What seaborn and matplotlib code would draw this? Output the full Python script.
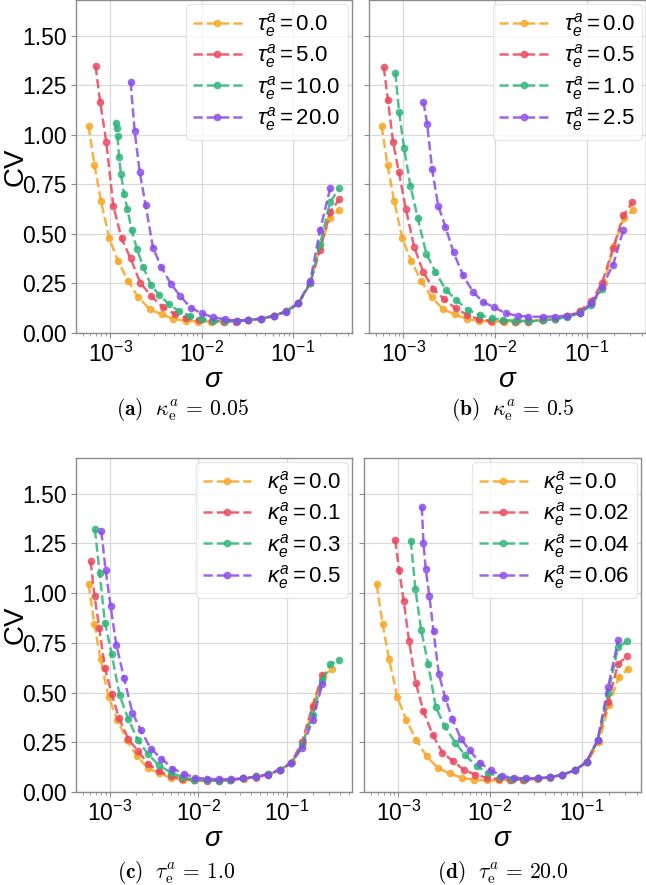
import matplotlib
matplotlib.use("Agg")
import matplotlib.pyplot as plt
import seaborn as sns
import pandas as pd

# ---------------- data ----------------
base_sigma = [5.78e-4, 6.71e-4, 7.91e-4, 9.75e-4, 1.216e-3, 1.567e-3, 2.03e-3, 2.73e-3, 3.66e-3, 4.89e-3,
              6.71e-3, 9.20e-3, 1.265e-2, 1.73e-2, 2.38e-2, 3.26e-2, 4.47e-2, 6.17e-2, 8.51e-2, 0.1156,
              0.155, 0.1995, 0.257, 0.325]
base_cv = [1.045, 0.847, 0.667, 0.477, 0.364, 0.262, 0.180, 0.119, 0.094, 0.071,
           0.062, 0.058, 0.058, 0.060, 0.062, 0.066, 0.072, 0.086, 0.110, 0.150,
           0.250, 0.440, 0.580, 0.620]

# panel (a)
a_red_sigma = [6.90e-4, 7.76e-4, 9.04e-4, 1.079e-3, 1.330e-3, 1.671e-3, 2.14e-3, 2.80e-3, 3.76e-3, 5.09e-3,
               6.84e-3, 9.33e-3, 1.288e-2, 1.758e-2, 2.38e-2, 3.26e-2, 4.47e-2, 6.17e-2, 8.51e-2, 0.1156,
               0.155, 0.1995, 0.257, 0.325]
a_red_cv = [1.347, 1.163, 0.964, 0.642, 0.477, 0.376, 0.252, 0.188, 0.130, 0.096,
            0.077, 0.066, 0.059, 0.057, 0.058, 0.066, 0.072, 0.086, 0.110, 0.150,
            0.250, 0.420, 0.610, 0.675]
a_green_sigma = [1.143e-3, 1.172e-3, 1.202e-3, 1.247e-3, 1.312e-3, 1.416e-3, 1.538e-3, 1.714e-3, 1.963e-3,
                 2.31e-3, 2.80e-3, 3.45e-3, 4.38e-3, 5.64e-3, 7.43e-3, 1.0e-2, 1.346e-2, 1.803e-2, 2.43e-2,
                 3.26e-2, 4.47e-2, 6.17e-2, 8.51e-2, 0.1156, 0.155, 0.1995, 0.257, 0.325]
a_green_cv = [1.060, 1.035, 0.994, 0.887, 0.800, 0.700, 0.628, 0.519, 0.423,
              0.331, 0.240, 0.192, 0.145, 0.111, 0.087, 0.071, 0.062, 0.059, 0.060,
              0.066, 0.072, 0.086, 0.109, 0.150, 0.250, 0.450, 0.660, 0.730]
a_purple_sigma = [1.671e-3, 1.849e-3, 2.10e-3, 2.44e-3, 2.94e-3, 3.63e-3, 4.60e-3, 5.87e-3, 7.62e-3, 1.0e-2,
                  1.346e-2, 1.803e-2, 2.43e-2, 3.26e-2, 4.47e-2, 6.17e-2, 8.51e-2, 0.1156, 0.155, 0.1995, 0.257]
a_purple_cv = [1.267, 1.020, 0.813, 0.645, 0.430, 0.333, 0.249, 0.185, 0.128, 0.099,
               0.079, 0.069, 0.062, 0.066, 0.072, 0.085, 0.108, 0.150, 0.260, 0.520, 0.730]

# panel (b)
b_red_sigma = [6.10e-4, 6.79e-4, 7.71e-4, 8.91e-4, 1.062e-3, 1.309e-3, 1.644e-3, 2.13e-3, 2.79e-3, 3.72e-3,
               4.99e-3, 6.70e-3, 9.06e-3, 1.236e-2, 1.66e-2, 2.28e-2, 3.33e-2, 4.51e-2, 6.15e-2, 8.39e-2,
               0.1127, 0.147, 0.195, 0.253, 0.317]
b_red_cv = [1.342, 1.174, 0.964, 0.813, 0.628, 0.435, 0.309, 0.222, 0.170, 0.124,
            0.091, 0.069, 0.062, 0.060, 0.057, 0.057, 0.064, 0.072, 0.085, 0.110,
            0.160, 0.250, 0.427, 0.593, 0.659]
b_green_sigma = [8.17e-4, 8.97e-4, 1.019e-3, 1.194e-3, 1.439e-3, 1.786e-3, 2.24e-3, 2.91e-3, 3.80e-3, 5.02e-3,
                 6.87e-3, 9.20e-3, 1.236e-2, 1.66e-2, 2.28e-2, 3.33e-2, 4.51e-2, 6.15e-2, 8.39e-2, 0.1127, 0.147]
b_green_cv = [1.314, 1.115, 0.931, 0.741, 0.578, 0.397, 0.309, 0.217, 0.166, 0.116,
              0.091, 0.074, 0.066, 0.062, 0.060, 0.064, 0.070, 0.080, 0.100, 0.140, 0.220]
b_purple_sigma = [1.656e-3, 1.820e-3, 2.06e-3, 2.40e-3, 2.88e-3, 3.53e-3, 4.48e-3, 5.75e-3, 7.46e-3, 9.84e-3,
                  1.309e-2, 1.774e-2, 2.32e-2, 3.33e-2, 4.51e-2, 6.15e-2, 8.39e-2, 0.1127, 0.147, 0.195, 0.253]
b_purple_cv = [1.166, 1.053, 0.825, 0.642, 0.536, 0.407, 0.291, 0.208, 0.155, 0.130,
               0.099, 0.087, 0.082, 0.082, 0.083, 0.088, 0.100, 0.150, 0.230, 0.345, 0.520]

# panel (c)
c_red_sigma = [6.10e-4, 6.76e-4, 7.64e-4, 8.85e-4, 1.054e-3, 1.274e-3, 1.629e-3, 2.11e-3, 2.74e-3, 3.61e-3,
               4.91e-3, 6.65e-3, 9.02e-3, 1.245e-2, 1.73e-2, 2.29e-2, 3.24e-2, 4.51e-2, 6.22e-2, 8.43e-2,
               0.1122, 0.1486, 0.196, 0.2535]
c_red_cv = [1.161, 0.985, 0.825, 0.623, 0.495, 0.372, 0.265, 0.205, 0.141, 0.104,
            0.080, 0.067, 0.059, 0.057, 0.057, 0.060, 0.068, 0.078, 0.090, 0.113,
            0.146, 0.250, 0.430, 0.590]
c_green_sigma = [6.82e-4, 7.71e-4, 8.85e-4, 1.054e-3, 1.297e-3, 1.629e-3, 2.09e-3, 2.72e-3, 3.61e-3, 4.91e-3,
                 6.65e-3, 9.02e-3, 1.253e-2, 1.73e-2, 2.29e-2, 3.24e-2, 4.51e-2, 6.22e-2, 8.43e-2, 0.1122,
                 0.1486, 0.196, 0.2535, 0.3126, 0.395]
c_green_cv = [1.321, 1.103, 0.852, 0.696, 0.486, 0.366, 0.260, 0.190, 0.134, 0.098,
              0.075, 0.062, 0.059, 0.057, 0.061, 0.068, 0.078, 0.090, 0.113, 0.146,
              0.235, 0.386, 0.565, 0.645, 0.662]
c_purple_sigma = [8.05e-4, 9.02e-4, 1.026e-3, 1.189e-3, 1.452e-3, 1.807e-3, 2.26e-3, 2.91e-3, 3.85e-3, 5.13e-3,
                  6.84e-3, 9.25e-3, 1.253e-2, 1.73e-2, 2.37e-2, 3.24e-2, 4.51e-2, 6.22e-2, 8.43e-2, 0.1122,
                  0.1486, 0.196, 0.2535]
c_purple_cv = [1.312, 1.115, 0.934, 0.741, 0.575, 0.399, 0.310, 0.218, 0.168, 0.118,
               0.093, 0.072, 0.067, 0.064, 0.064, 0.068, 0.076, 0.088, 0.112, 0.146,
               0.220, 0.360, 0.545]

# panel (d)
d_red_sigma = [9.20e-4, 1.019e-3, 1.143e-3, 1.309e-3, 1.545e-3, 1.879e-3, 2.36e-3, 3.03e-3, 3.90e-3, 5.15e-3,
               6.90e-3, 9.25e-3, 1.245e-2, 1.67e-2, 2.29e-2, 3.35e-2, 4.58e-2, 6.19e-2, 8.45e-2, 0.1135,
               0.1496, 0.1954, 0.251, 0.316]
d_red_cv = [1.269, 1.118, 0.959, 0.759, 0.550, 0.406, 0.289, 0.198, 0.157, 0.113,
            0.087, 0.072, 0.064, 0.062, 0.062, 0.070, 0.075, 0.087, 0.109, 0.151,
            0.260, 0.452, 0.646, 0.682]
d_green_sigma = [1.365e-3, 1.535e-3, 1.770e-3, 2.11e-3, 2.56e-3, 3.19e-3, 4.18e-3, 5.37e-3, 7.19e-3, 9.42e-3,
                 1.297e-2, 1.738e-2, 2.40e-2, 3.35e-2, 4.58e-2, 6.19e-2, 8.45e-2, 0.1135, 0.1496, 0.1954,
                 0.251, 0.316]
d_green_cv = [1.265, 1.019, 0.816, 0.646, 0.427, 0.332, 0.248, 0.185, 0.129, 0.098,
              0.075, 0.065, 0.063, 0.068, 0.075, 0.087, 0.109, 0.151, 0.260, 0.500,
              0.729, 0.758]
d_purple_sigma = [1.799e-3, 1.879e-3, 1.991e-3, 2.18e-3, 2.42e-3, 2.76e-3, 3.24e-3, 3.87e-3, 4.81e-3, 5.98e-3,
                  7.83e-3, 1.023e-2, 1.352e-2, 1.816e-2, 2.45e-2, 3.35e-2, 4.58e-2, 6.19e-2, 8.45e-2, 0.1135,
                  0.1496, 0.1954, 0.251]
d_purple_cv = [1.436, 1.252, 1.120, 0.984, 0.808, 0.595, 0.475, 0.369, 0.268, 0.210,
               0.146, 0.109, 0.080, 0.072, 0.068, 0.069, 0.075, 0.087, 0.109, 0.151,
               0.260, 0.530, 0.763]

a_labels = [r"$\tau_e^a = 0.0$", r"$\tau_e^a = 5.0$", r"$\tau_e^a = 10.0$", r"$\tau_e^a = 20.0$"]
b_labels = [r"$\tau_e^a = 0.0$", r"$\tau_e^a = 0.5$", r"$\tau_e^a = 1.0$", r"$\tau_e^a = 2.5$"]
c_labels = [r"$\kappa_e^a = 0.0$", r"$\kappa_e^a = 0.1$", r"$\kappa_e^a = 0.3$", r"$\kappa_e^a = 0.5$"]
d_labels = [r"$\kappa_e^a = 0.0$", r"$\kappa_e^a = 0.02$", r"$\kappa_e^a = 0.04$", r"$\kappa_e^a = 0.06$"]

captions = [r"$\mathbf{(a)}\ \ \kappa_{\mathrm{e}}^{a}\,=\,0.05$",
            r"$\mathbf{(b)}\ \ \kappa_{\mathrm{e}}^{a}\,=\,0.5$",
            r"$\mathbf{(c)}\ \ \tau_{\mathrm{e}}^{a}\,=\,1.0$",
            r"$\mathbf{(d)}\ \ \tau_{\mathrm{e}}^{a}\,=\,20.0$"]

colors = ["#F5A623", "#E8485C", "#2FB57A", "#8A4CE8"]

# ---------------- style ----------------
sns.set_theme(style="whitegrid")
plt.rcParams.update({
    "font.family": ["Liberation Sans", "DejaVu Sans"],
    "mathtext.fontset": "custom",
    "mathtext.rm": "Liberation Sans",
    "mathtext.it": "Liberation Sans:italic",
    "mathtext.bf": "Liberation Sans:bold",
    "axes.edgecolor": "0.55",
    "axes.linewidth": 1.0,
    "grid.color": "0.85",
    "grid.linewidth": 0.9,
    "text.color": "black",
    "xtick.color": "black",
    "ytick.color": "black",
    "axes.labelcolor": "black",
})

W, H = 646, 885
fig = plt.figure(figsize=(W / 100, H / 100), dpi=100)

def px_axes(l, t, r, b):
    return fig.add_axes([l / W, 1 - b / H, (r - l) / W, (b - t) / H])

axA = px_axes(76, 0, 352, 333)
axB = px_axes(369, 0, 646, 333)
axC = px_axes(76, 458, 352, 792)
axD = px_axes(364, 458, 641, 792)

panels = [
    (axA, [(base_sigma, base_cv), (a_red_sigma, a_red_cv), (a_green_sigma, a_green_cv), (a_purple_sigma, a_purple_cv)], a_labels),
    (axB, [(base_sigma, base_cv), (b_red_sigma, b_red_cv), (b_green_sigma, b_green_cv), (b_purple_sigma, b_purple_cv)], b_labels),
    (axC, [(base_sigma, base_cv), (c_red_sigma, c_red_cv), (c_green_sigma, c_green_cv), (c_purple_sigma, c_purple_cv)], c_labels),
    (axD, [(base_sigma, base_cv), (d_red_sigma, d_red_cv), (d_green_sigma, d_green_cv), (d_purple_sigma, d_purple_cv)], d_labels),
]

for i, (ax, series, labels) in enumerate(panels):
    for (sx, sy), col, lab in zip(series, colors, labels):
        df = pd.DataFrame({"sigma": sx, "CV": sy})
        sns.lineplot(data=df, x="sigma", y="CV", ax=ax, color=col, linestyle="--",
                     linewidth=1.8, marker="o", markersize=5.5, markeredgewidth=0,
                     alpha=0.85, label=lab)
    ax.set_xscale("log")
    ax.set_ylim(0, 1.68)
    ax.set_yticks([0, 0.25, 0.5, 0.75, 1.0, 1.25, 1.5])
    ax.tick_params(axis="both", which="major", labelsize=16.5, length=3.5, width=0.8,
                   color="0.55", pad=3, bottom=True, left=True)
    ax.tick_params(axis="x", which="minor", length=2, width=0.6, color="0.55", bottom=True)
    ax.grid(True, which="major")
    ax.grid(False, which="minor")
    ax.set_xlabel(r"$\sigma$", fontsize=20, labelpad=0)
    if i in (0, 2):
        ax.set_yticklabels(["0.00", "0.25", "0.50", "0.75", "1.00", "1.25", "1.50"])
        ax.set_ylabel("CV", fontsize=20)
        ax.yaxis.set_label_coords(-0.17, 0.5)
    else:
        ax.set_yticklabels([])
        ax.set_ylabel("")
    ax.legend(loc="upper right", fontsize=16, frameon=True, framealpha=0.8,
              edgecolor="0.88", handlelength=2.2, handletextpad=0.7,
              labelspacing=0.15, borderpad=0.3, borderaxespad=0.2)

cap_pos = [(182, 410), (513, 410), (176, 872), (503, 872)]
for (cx, cy), txt in zip(cap_pos, captions):
    fig.text(cx / W, 1 - cy / H, txt, ha="center", va="center", fontsize=15.5,
             math_fontfamily="cm")

fig.savefig("out.png", dpi=100)
